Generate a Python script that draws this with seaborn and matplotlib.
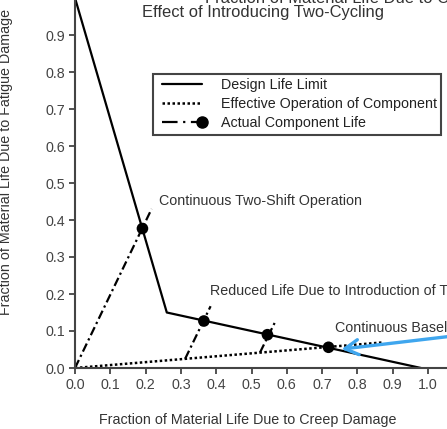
import numpy as np
import matplotlib
matplotlib.use("Agg")
import matplotlib.pyplot as plt
import matplotlib.font_manager as fm
from matplotlib.lines import Line2D
import seaborn as sns
import pandas as pd

# design life limit (solid)
design_x = [0.0, 0.26, 0.98]
design_y = [1.0, 0.15, 0.0]

# effective operation of component (dotted)
effective_x = [0.0, 0.87]
effective_y = [0.0, 0.069]

# actual component life (dash-dot segments + markers)
actual_start_x = [0.0, 0.312, 0.524]
actual_start_y = [0.0, 0.025, 0.042]
actual_end_x = [0.217, 0.384, 0.567]
actual_end_y = [0.43, 0.167, 0.125]
marker_x = [0.191, 0.365, 0.545, 0.718]
marker_y = [0.377, 0.127, 0.090, 0.056]

x_ticks = [0.0, 0.1, 0.2, 0.3, 0.4, 0.5, 0.6, 0.7, 0.8, 0.9, 1.0]
y_ticks = [0.0, 0.1, 0.2, 0.3, 0.4, 0.5, 0.6, 0.7, 0.8, 0.9]

sns.set_theme(style="ticks")
# keep matplotlib from picking the narrow Liberation variant
fm.fontManager.ttflist = [f for f in fm.fontManager.ttflist
                          if "Narrow" not in f.fname]
fm.fontManager._findfont_cached.cache_clear()
plt.rcParams["font.family"] = ["Liberation Sans", "DejaVu Sans"]

FS = 10.3
W, H = 447, 429
fig = plt.figure(figsize=(W / 100, H / 100), dpi=100)
ax = fig.add_axes([75 / W, 61 / H, 405 / W, 407 / H])

dashdot = (0, (4, 1.6, 1, 1.6))
dotted = (0, (1, 1))

design = pd.DataFrame({"x": design_x, "y": design_y})
sns.lineplot(data=design, x="x", y="y", sort=False, estimator=None, ax=ax,
             color="black", lw=1.6)

eff = pd.DataFrame({"x": effective_x, "y": effective_y})
sns.lineplot(data=eff, x="x", y="y", sort=False, estimator=None, ax=ax,
             color="black", lw=1.8, linestyle=dotted)

for i in range(len(actual_start_x)):
    seg = pd.DataFrame({"x": [actual_start_x[i], actual_end_x[i]],
                        "y": [actual_start_y[i], actual_end_y[i]]})
    sns.lineplot(data=seg, x="x", y="y", sort=False, estimator=None, ax=ax,
                 color="black", lw=1.6, linestyle=dashdot)

sns.scatterplot(x=marker_x, y=marker_y, ax=ax, color="black", s=70,
                edgecolor="none", zorder=5)

# legend
handles = [
    Line2D([], [], color="black", lw=1.6),
    Line2D([], [], color="black", lw=1.8, linestyle=dotted),
    Line2D([], [], color="black", lw=1.6, linestyle=(0, (7, 2.5, 1, 2.5)),
           marker="o", markersize=8),
]
labels = ["Design Life Limit", "Effective Operation of Component",
          "Actual Component Life"]
leg = ax.legend(handles, labels, loc="upper left",
                bbox_to_anchor=((153 - 75) / 405, (368 - 74) / 407),
                borderaxespad=0, fontsize=FS, handlelength=3.4,
                handletextpad=1.05, labelspacing=0.35, borderpad=0.3,
                fancybox=False, framealpha=1, edgecolor="#444444",
                numpoints=2)
leg.get_frame().set_linewidth(1.5)
# marker only at the right end of the dash-dot handle
leg.legend_handles[2].set_markevery([1])
for t in leg.get_texts():
    t.set_color("#222222")

txt = "#333333"
ax.text(0.238, 0.452, "Continuous Two-Shift Operation", fontsize=FS,
        color=txt, va="center", ha="left")
ax.text(0.382, 0.209, "Reduced Life Due to Introduction of Two-Shift Operation",
        fontsize=FS, color=txt, va="center", ha="left")
ax.text(0.735, 0.107, "Continuous Baseload Operation", fontsize=FS,
        color=txt, va="center", ha="left")

ax.annotate("", xy=(0.755, 0.051), xytext=(1.12, 0.092),
            arrowprops=dict(arrowstyle="->,head_length=0.8,head_width=0.45",
                            color="#3fa6ee", lw=2.4, shrinkA=0, shrinkB=0))

ax.set_xlim(0, 1.147)
ax.set_ylim(0, 1.1)
ax.set_xticks(x_ticks)
ax.set_yticks(y_ticks)
ax.set_xticklabels([f"{v:.1f}" for v in x_ticks])
ax.set_yticklabels([f"{v:.1f}" for v in y_ticks])
ax.tick_params(labelsize=FS, colors="#444444", length=4, width=1.3,
               direction="out", pad=3)
for s in ["top", "right"]:
    ax.spines[s].set_visible(False)
for s in ["left", "bottom"]:
    ax.spines[s].set_color("#444444")
    ax.spines[s].set_linewidth(1.5)

ax.set_xlabel("Fraction of Material Life Due to Creep Damage", fontsize=FS,
              color="#333333")
ax.set_ylabel("Fraction of Material Life Due to Fatigue Damage", fontsize=FS,
              color="#333333")
ax.xaxis.set_label_coords((248 - 75) / 405, -45 / 407)
ax.yaxis.set_label_coords((13 - 75) / 405, (368 - 162) / 407)

fig.text(142 / W, 1 - 12 / H, "Effect of Introducing Two-Cycling",
         fontsize=11.9, color="#333333", ha="left", va="center")
fig.text(205 / W, 1 - 3 / H, "Fraction of Material Life Due to Creep Damage",
         fontsize=11.9, color="#333333", ha="left", va="baseline")

fig.savefig("out.png", dpi=100)
